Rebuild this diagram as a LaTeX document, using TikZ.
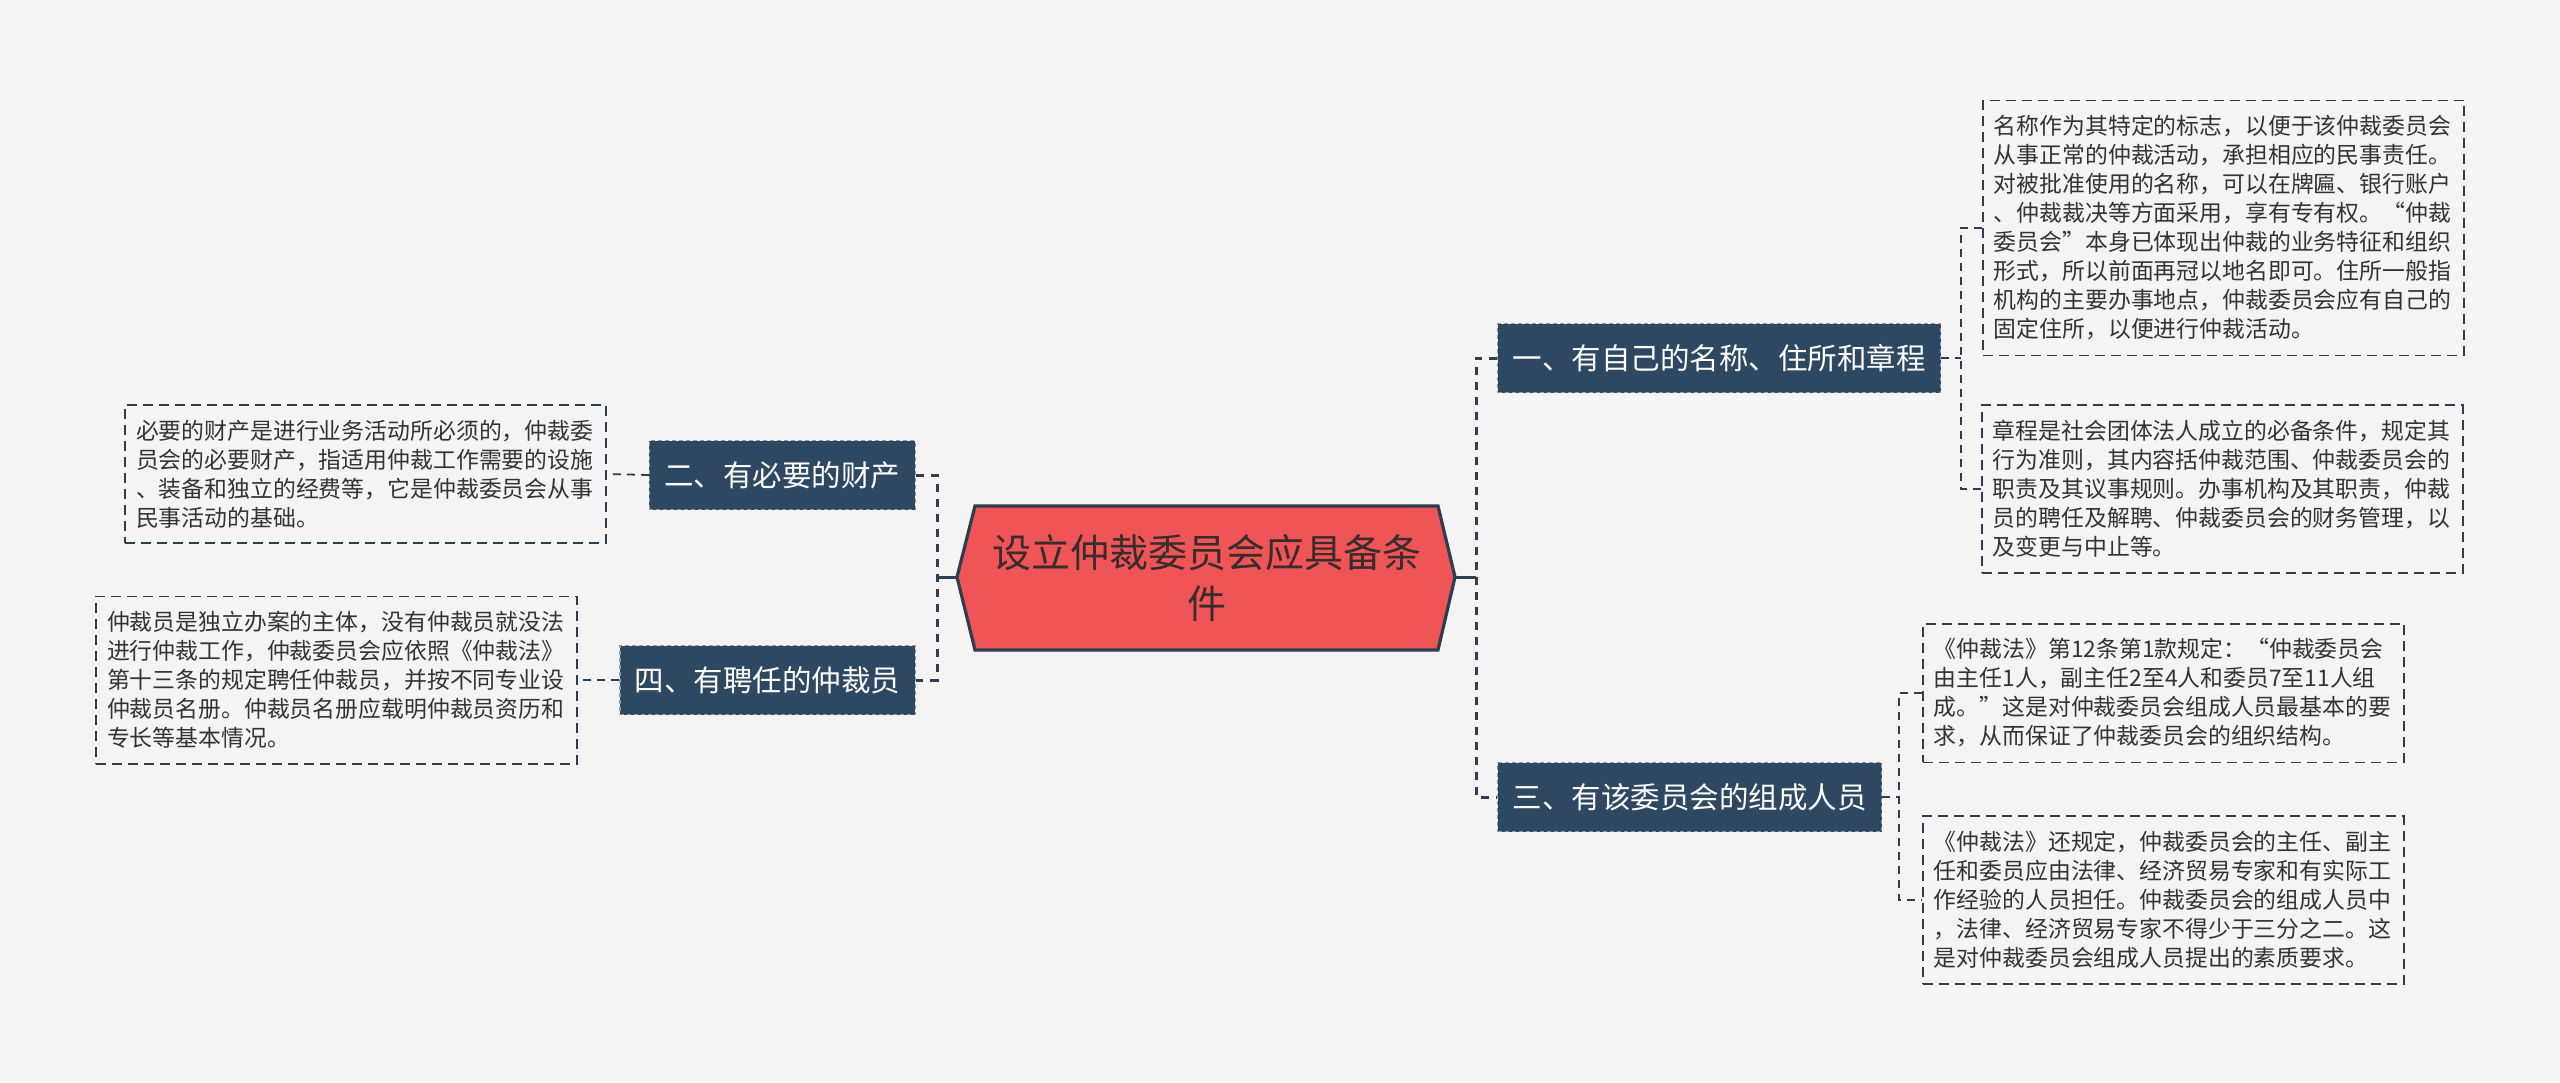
\documentclass[tikz,border=0pt]{standalone}
\usepackage{fontspec}
\setmainfont{Noto Sans CJK SC}
\usepackage{xcolor}
\usetikzlibrary{positioning, calc}

\definecolor{bgcol}{HTML}{F4F4F4}
\definecolor{navy}{HTML}{2F4862}
\definecolor{navyline}{HTML}{8A9AAB}
\definecolor{rootred}{HTML}{EF5556}
\definecolor{roottext}{HTML}{3A2B2D}
\definecolor{edge}{HTML}{2E3D50}
\definecolor{ink}{HTML}{333333}

\begin{document}
\begin{tikzpicture}[
  x=0.5pt, y=-0.5pt,
  root/.style={rectangle, minimum width=231.5pt, minimum height=72pt, inner sep=0pt,
               align=center, text=roottext, font=\fontsize{19.5pt}{25.5pt}\selectfont},
  branch/.style={rectangle, fill=navy, draw=navyline, line width=0.6pt,
                 dash pattern=on 2pt off 1.5pt, minimum height=34.5pt, inner xsep=7.5pt,
                 text=white, font=\fontsize{14.75pt}{17pt}\selectfont},
  leaf/.style={rectangle, draw=edge, line width=0.9pt, dash pattern=on 5pt off 3pt,
               inner xsep=5.5pt, inner ysep=7.5pt, text width=229.5pt, align=left,
               text=ink, font=\fontsize{11.43pt}{14.5pt}\selectfont},
  link/.style={draw=edge, line width=1.5pt, dash pattern=on 4pt off 3.5pt},
  twig/.style={draw=edge, line width=0.9pt, dash pattern=on 4pt off 3pt},
  stem/.style={draw=edge, line width=1.5pt}
]

% ── Canvas ──
\fill[bgcol] (0,0) rectangle (2560,1082);
\useasboundingbox (0,0) rectangle (2560,1082);

% ── Root (hexagon) ──
\filldraw[fill=rootred, draw=edge, line width=1.6pt, line join=miter]
  (975,506) -- (1438,506) -- (1455,577) -- (1438,650) -- (975,650) -- (957,577) -- cycle;
\coordinate (rootL) at (957,577);
\coordinate (rootR) at (1455,577);
\node[root] (setup) at (1206.5,578) {设立仲裁委员会应具备条\\件};

% ── Branches ──
\node[branch, anchor=west] (own)     at (1497,358) {一、有自己的名称、住所和章程};
\node[branch, anchor=west] (members) at (1497,797) {三、有该委员会的组成人员};
\node[branch, anchor=east] (assets)  at (916,475)  {二、有必要的财产};
\node[branch, anchor=east] (arbs)    at (916,680)  {四、有聘任的仲裁员};

% ── Leaves ──
\node[leaf, anchor=west] (ownname) at (1982,228) {名称作为其特定的标志，以便于该仲裁委员会\\
从事正常的仲裁活动，承担相应的民事责任。\\
对被批准使用的名称，可以在牌匾、银行账户\\
、仲裁裁决等方面采用，享有专有权。“仲裁\\
委员会”本身已体现出仲裁的业务特征和组织\\
形式，所以前面再冠以地名即可。住所一般指\\
机构的主要办事地点，仲裁委员会应有自己的\\
固定住所，以便进行仲裁活动。};
\node[leaf, anchor=west] (ownrule) at (1981,489) {章程是社会团体法人成立的必备条件，规定其\\
行为准则，其内容括仲裁范围、仲裁委员会的\\
职责及其议事规则。办事机构及其职责，仲裁\\
员的聘任及解聘、仲裁委员会的财务管理，以\\
及变更与中止等。};
\node[leaf, anchor=west] (memlaw) at (1922,693) {《仲裁法》第12条第1款规定：“仲裁委员会\\
由主任1人，副主任2至4人和委员7至11人组\\
成。”这是对仲裁委员会组成人员最基本的要\\
求，从而保证了仲裁委员会的组织结构。};
\node[leaf, anchor=west] (memqual) at (1922,900) {《仲裁法》还规定，仲裁委员会的主任、副主\\
任和委员应由法律、经济贸易专家和有实际工\\
作经验的人员担任。仲裁委员会的组成人员中\\
，法律、经济贸易专家不得少于三分之二。这\\
是对仲裁委员会组成人员提出的素质要求。};
\node[leaf, anchor=east] (assetsnote) at (607,474) {必要的财产是进行业务活动所必须的，仲裁委\\
员会的必要财产，指适用仲裁工作需要的设施\\
、装备和独立的经费等，它是仲裁委员会从事\\
民事活动的基础。};
\node[leaf, anchor=east] (arbsnote) at (578,680) {仲裁员是独立办案的主体，没有仲裁员就没法\\
进行仲裁工作，仲裁委员会应依照《仲裁法》\\
第十三条的规定聘任仲裁员，并按不同专业设\\
仲裁员名册。仲裁员名册应载明仲裁员资历和\\
专长等基本情况。};

% ── Junctions ──
\coordinate (jr)   at (1476,577);
\coordinate (jl)   at (937,577);
\coordinate (jown) at (1961,358);
\coordinate (jmem) at (1899,797);

% ── Root to branches ──
\draw[stem] (rootR) -- (jr);
\draw[stem] (rootL) -- (jl);
\draw[link] (own.west) -| (jr) |- (members.west);
\draw[link] (assets.east) -| (jl) |- (arbs.east);

% ── Branches to leaves ──
\draw[twig] (own.east) -- (jown);
\draw[twig] (ownname.west) -| (jown) |- (ownrule.west);
\draw[twig] (members.east) -- (jmem);
\draw[twig] (memlaw.west) -| (jmem) |- (memqual.west);
\draw[twig] (assets.west) -- (assetsnote.east);
\draw[twig] (arbs.west) -- (arbsnote.east);
\end{tikzpicture}
\end{document}
